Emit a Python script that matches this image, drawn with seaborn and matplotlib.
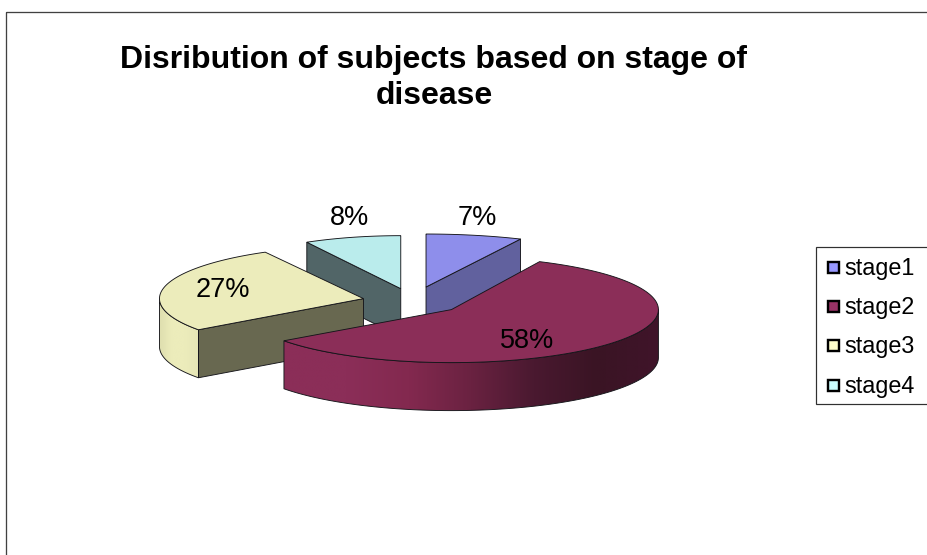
import numpy as np
import matplotlib
matplotlib.use("Agg")
import matplotlib.pyplot as plt
from matplotlib.lines import Line2D
from matplotlib.patches import Polygon, Rectangle
import seaborn as sns

# Chart data
stages = ["stage1", "stage2", "stage3", "stage4"]
shares = [7, 58, 27, 8]

# Colours
legend_colors = ["#9999FF", "#993366", "#FFFFCC", "#CCFFFF"]
top_colors = ["#8E8EEB", "#8B2E58", "#ECECBB", "#BAECEC"]
wall_colors = ["#61619E", "#5E1F3B", "#686850", "#516567"]
curve_palettes = [
    ["#61619E", "#61619E"],
    ["#8B2E58", "#8B2E58", "#83294F", "#6A2241", "#4A1930", "#3A1424", "#40142A"],
    ["#DEDEAE", "#ECECBB", "#ECECBB", "#E6E6B6"],
    ["#516567", "#516567"],
]

# Pie geometry in figure pixels
CENTER = (413.5, 301.5)
RADIUS_Y = 53.0
RADII_X = [222.0, 207.0, 204.0, 195.0]
EXPLODE = [0.28, 0.24, 0.25, 0.25]
DEPTH = 48.0
EDGE = "#15151a"

sns.set_theme(style="white")
plt.rcParams["font.family"] = ["Liberation Sans", "DejaVu Sans"]

fig = plt.figure(figsize=(9.28, 5.55), dpi=100)
ax = fig.add_axes([0, 0, 1, 1])
ax.set_xlim(0, 928)
ax.set_ylim(555, 0)
ax.axis("off")
px = 72 / fig.dpi

# Chart frame, running off the right and bottom edges
ax.add_patch(Rectangle((6.5, 11.5), 940, 560, fill=False, ec="#404040", lw=1.3 * px, zorder=1))


def rim(cx, cy, rx, angles):
    """Points on the elliptical rim, angles clockwise from twelve o'clock."""
    rad = np.radians(angles)
    return np.column_stack([cx + rx * np.sin(rad), cy - RADIUS_Y * np.cos(rad)])


# Convert shares to sweep angles
edges = np.concatenate([[0.0], np.cumsum(shares)]) / np.sum(shares) * 360.0

slices = []
for i in range(len(shares)):
    start, end = edges[i], edges[i + 1]
    mid = np.radians((start + end) / 2)
    cx = CENTER[0] + EXPLODE[i] * 205.0 * np.sin(mid)
    cy = CENTER[1] - EXPLODE[i] * RADIUS_Y * np.cos(mid)
    slices.append((i, start, end, cx, cy, RADII_X[i]))

# Paint from the back of the pie to the front
order = [3, 0, 2, 1]
z = 3
for idx in order:
    i, start, end, cx, cy, rx = slices[idx]
    drop = np.array([0, DEPTH])

    # Flat cut faces turned towards the viewer
    for ang, visible in ((start, 180 < start < 360), (end, 0 < end < 180)):
        if visible:
            p = rim(cx, cy, rx, [ang])[0]
            apex = np.array([cx, cy])
            ax.add_patch(Polygon([apex, p, p + drop, apex + drop], closed=True,
                                 fc=wall_colors[i], ec=EDGE, lw=0.9 * px, zorder=z))

    # Curved outer wall with a horizontal shading ramp
    lo, hi = max(start, 90.0), min(end, 270.0)
    if hi > lo:
        curve = rim(cx, cy, rx, np.linspace(lo, hi, 120))
        wall = np.vstack([curve, (curve + drop)[::-1]])
        outline = Polygon(wall, closed=True, fc="none", ec=EDGE, lw=0.9 * px, zorder=z + 0.2)
        x0, x1 = wall[:, 0].min(), wall[:, 0].max()
        ramp = np.array(sns.blend_palette(curve_palettes[i], n_colors=256))[None, :, :]
        img = ax.imshow(ramp, extent=(x0, x1, wall[:, 1].max(), wall[:, 1].min()),
                        aspect="auto", zorder=z + 0.1, interpolation="bilinear")
        ax.add_patch(outline)
        img.set_clip_path(outline)

    # Top face
    arc = rim(cx, cy, rx, np.linspace(start, end, 160))
    ax.add_patch(Polygon(np.vstack([[cx, cy], arc]), closed=True,
                         fc=top_colors[i], ec=EDGE, lw=0.9 * px, zorder=z + 0.3))
    z += 1

ax.set_xlim(0, 928)
ax.set_ylim(555, 0)

# Percentage labels
label_xy = [(477, 218), (527, 341), (223, 290), (350, 218)]
for value, (lx, ly) in zip(shares, label_xy):
    ax.text(lx, ly, f"{value}%", ha="center", va="center", fontsize=19.5,
            color="black", zorder=20)

# Title
ax.text(434, 78, "Disribution of subjects based on stage of\ndisease", ha="center", va="center",
        fontsize=23, fontweight="bold", color="black", linespacing=1.26, zorder=20)

# Legend box, open past the right edge, with the entries placed inside it
ax.add_patch(Rectangle((816.5, 246.5), 130, 157, fc="white", ec="#303030", lw=1.2 * px, zorder=29))
handles = [Line2D([], [], ls="none", marker="s", ms=11 * px, mfc=c, mec="black", mew=2.4 * px)
           for c in legend_colors]
leg = ax.legend(handles, stages, loc="upper left", bbox_to_anchor=(815.5 / 928, 1 - 247 / 555),
                bbox_transform=ax.transAxes, fontsize=16.8, frameon=False, labelcolor="black",
                labelspacing=0.7, handlelength=0.7, handletextpad=0.12, borderpad=0.42,
                borderaxespad=0)
leg.set_zorder(30)

fig.savefig("out.png", dpi=100)
